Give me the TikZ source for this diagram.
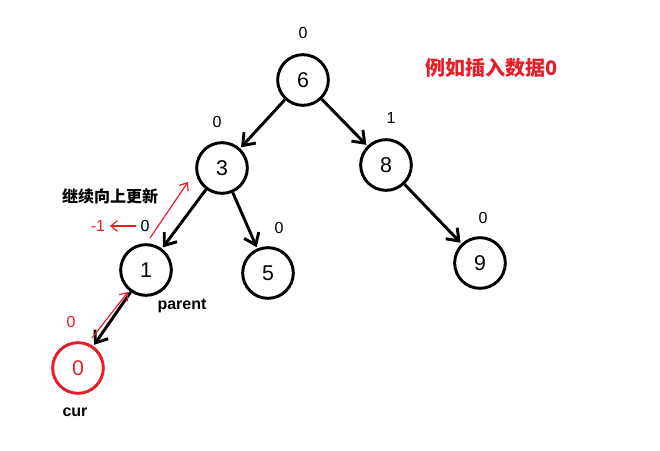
\documentclass[tikz,border=0pt]{standalone}
\usepackage{fontspec}
\setmainfont{Liberation Sans}
\newfontfamily\cjk{Noto Sans CJK SC}
\usetikzlibrary{arrows.meta}
\definecolor{myred}{RGB}{230,30,40}
\begin{document}
\begin{tikzpicture}[x=0.75pt,y=-0.75pt,
  nd/.style={circle,draw,line width=2.2pt,minimum size=38pt,inner sep=0pt,font=\fontsize{16}{16}\selectfont},
  ed/.style={line width=2.2pt,-{Straight Barb[length=8pt,width=12pt,line width=2.2pt]},shorten >=1pt},
  lab/.style={font=\fontsize{12}{12}\selectfont},
  rlab/.style={lab,text=myred},
  bl/.style={font=\bfseries\fontsize{12}{12}\selectfont},
  rar/.style={myred,line width=0.9pt,-{Straight Barb[length=5pt,width=8pt]}}]
\useasboundingbox (0,0) rectangle (660,450);
\node[nd] (n6) at (303,80) {6};
\node[nd] (n3) at (222,168) {3};
\node[nd] (n8) at (386,165) {8};
\node[nd] (n1) at (146,270) {1};
\node[nd] (n5) at (268,273) {5};
\node[nd] (n9) at (480,263) {9};
\node[nd,draw=myred,text=myred] (n0) at (78,368) {0};
\draw[ed] (n6) -- (n3);
\draw[ed] (n6) -- (n8);
\draw[ed] (n3) -- (n1);
\draw[ed] (n3) -- (n5);
\draw[ed] (n8) -- (n9);
\draw[ed] (n1) -- (n0);
\node[lab] (l6) at (303,33) {0};
\node[lab] (l3) at (217,122) {0};
\node[lab] (l8) at (391,118) {1};
\node[lab] (l5) at (279,228) {0};
\node[lab] (l9) at (483,218) {0};
\node[lab] (l1) at (145,226) {0};
\node[rlab] (lm1) at (98,226) {-1};
\draw[rar] (l1.west) -- (lm1.east);
\node[rlab] (l0) at (71,322) {0};
\node[bl] (t1) at (110,196) {\cjk\bfseries 继续向上更新};
\node[bl] (par) at (182,306) {parent};
\node[bl] (cur) at (75,412) {cur};
\node[font=\cjk\bfseries\fontsize{15}{15}\selectfont,text=myred] (title) at (492,68) {例如插入数据0};
\coordinate (a1) at (150,238); \coordinate (a2) at (188,182);
\coordinate (b1) at (92,338); \coordinate (b2) at (128,292);
\draw[rar] (a1) -- (a2);
\draw[rar] (b1) -- (b2);
\end{tikzpicture}
\end{document}
